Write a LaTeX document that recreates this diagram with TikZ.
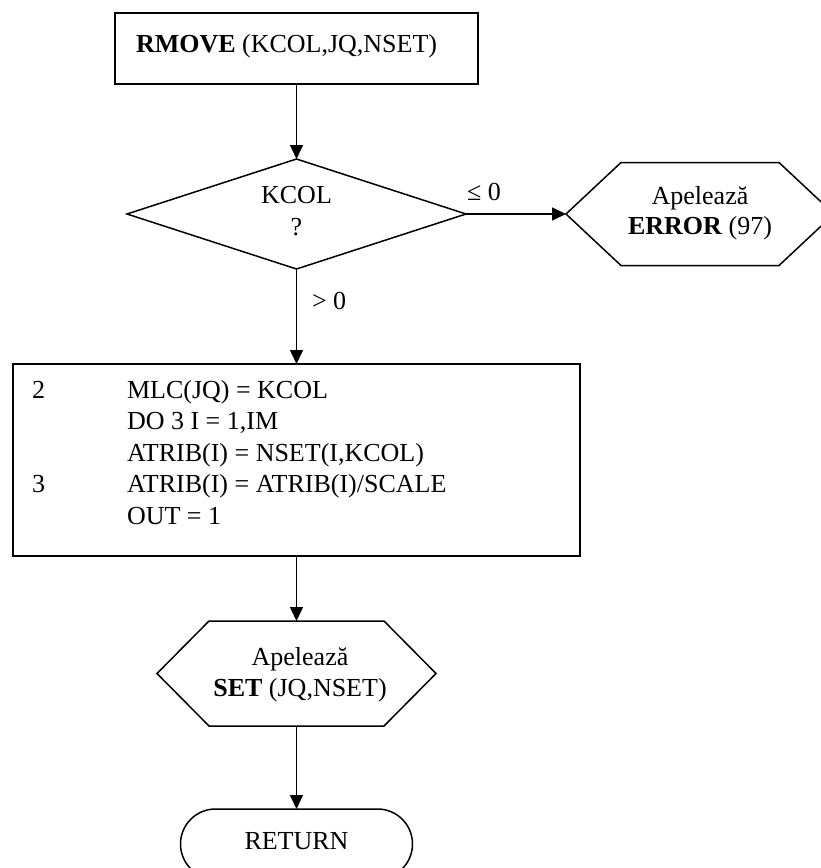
\documentclass[tikz,border=0pt]{standalone}
\usepackage{fontspec}
\setmainfont{Liberation Serif}
\usetikzlibrary{arrows.meta,shapes.misc}

% hexagonal outline around a named frame node: #1 node, #2 depth of the pointed ends
\newcommand\hexoutline[2]{%
  \draw (#1.west) -- ([xshift=#2]#1.north west) -- ([xshift=-#2]#1.north east)
        -- (#1.east) -- ([xshift=-#2]#1.south east) -- ([xshift=#2]#1.south west) -- cycle;}

\begin{document}
\begin{tikzpicture}[x=1pt,y=-1pt,line width=1.5pt,
  every node/.style={font=\fontsize{26}{31.5}\selectfont,inner sep=0pt,outer sep=0pt},
  flow/.style={-{Triangle[width=13pt,length=14pt]}},
  box/.style={draw,rectangle,line width=1.9pt},
  frame/.style={draw=none,rectangle},
  txt/.style={anchor=base},
  txtl/.style={anchor=base west}]

\useasboundingbox (0,0) rectangle (821,868);

% start block
\node[box,minimum width=363pt,minimum height=71pt] (start) at (296.5,48.5) {};
\node[txtl] (startlbl) at (136,52) {\textbf{RMOVE} (KCOL,JQ,NSET)};

% decision on KCOL
\node[frame,minimum width=339pt,minimum height=110pt] (test) at (296.5,214) {};
\draw (test.west) -- (test.north) -- (test.east) -- (test.south) -- cycle;
\node[txt] (testlbl1) at (296.5,203) {KCOL};
\node[txt] (testlbl2) at (296.5,235) {?};

% error call
\node[frame,minimum width=268pt,minimum height=103pt] (err) at (700,214) {};
\hexoutline{err}{55pt}
\node[txt] (errlbl1) at (700,204) {Apelează};
\node[txt] (errlbl2) at (700,234) {\textbf{ERROR} (97)};
\node[txtl] (le) at (467,200) {≤ 0};

% processing block
\node[box,minimum width=567pt,minimum height=192pt] (body) at (296.5,460) {};
\node[txtl] (lab2) at (32,398) {2};
\node[txtl] (lab3) at (32,492.5) {3};
\node[txtl] (c1) at (127,398) {MLC(JQ) = KCOL};
\node[txtl] (c2) at (127,429.5) {DO 3 I = 1,IM};
\node[txtl] (c3) at (127,461) {ATRIB(I) = NSET(I,KCOL)};
\node[txtl] (c4) at (127,492.5) {ATRIB(I) = ATRIB(I)/SCALE};
\node[txtl] (c5) at (127,524) {OUT = 1};
\node[txtl] (gt) at (312,309) {> 0};

% SET call
\node[frame,minimum width=279pt,minimum height=105pt] (set) at (296.5,673.5) {};
\hexoutline{set}{52pt}
\node[txt] (setlbl1) at (300,665) {Apelează};
\node[txt] (setlbl2) at (300,696) {\textbf{SET} (JQ,NSET)};

% terminator
\node[draw,rounded rectangle,minimum width=232pt,minimum height=70pt] (ret) at (296.5,844) {};
\node[txt] (retlbl) at (296.5,849) {RETURN};

% connectors
\draw[flow] (start.south) -- (test.north);
\draw[flow] (test.east) -- (err.west);
\draw[flow] (test.south) -- (body.north);
\draw[flow] (body.south) -- (set.north);
\draw[flow] (set.south) -- (ret.north);
\end{tikzpicture}
\end{document}
